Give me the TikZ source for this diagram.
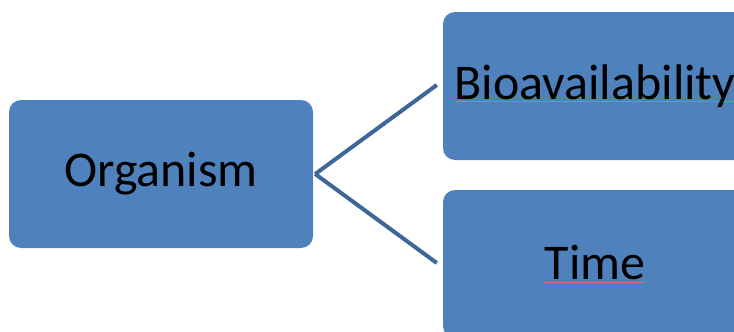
\documentclass[tikz,border=0pt]{standalone}
\usepackage{fontspec}
\setmainfont{Carlito}
\usepackage{tikz}

\definecolor{boxblue}{HTML}{4F81BD}
\definecolor{lineblue}{HTML}{3D6699}
\definecolor{spellred}{HTML}{D0707A}

% red spell-check line under a word
\newcommand{\squig}[1]{\setbox0\hbox{#1}\rlap{\color{spellred}\rule[-2.5pt]{\wd0}{0.7pt}}\box0}

\tikzset{
    box/.style={rectangle, rounded corners=12pt, fill=boxblue, minimum width=304pt,
        minimum height=148pt, inner sep=0pt, font=\fontsize{50}{60}\selectfont},
    link/.style={draw=lineblue, line width=4pt}
}

\begin{document}
\begin{tikzpicture}[x=1pt,y=-1pt]
    % Frame of the picture
    \useasboundingbox (0,0) rectangle (734,332);
    \clip (0,0) rectangle (734,332);

    % Draw the boxes
    \node[box] (org) at (161,174) {Organism};
    \node[box] (bio) at (595,86) {\squig{Bioavailability}};
    \node[box] (time) at (595,264) {\squig{Time}};

    % Draw the links
    \draw[link] ([xshift=2pt]org.east) -- ([xshift=-6pt,yshift=1pt]bio.west);
    \draw[link] ([xshift=2pt]org.east) -- ([xshift=-6pt,yshift=1pt]time.west);

\end{tikzpicture}
\end{document}
